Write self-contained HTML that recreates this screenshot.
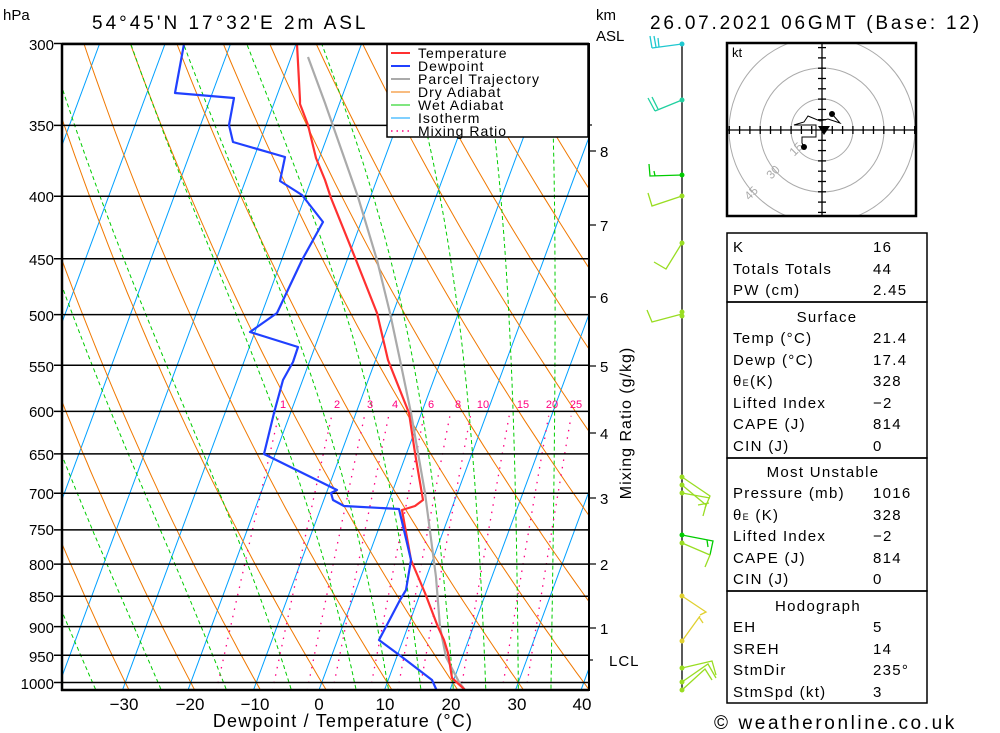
<!DOCTYPE html>
<html><head><meta charset="utf-8"><style>
body{margin:0;background:#fff;width:1000px;height:733px;overflow:hidden;font-family:"Liberation Sans",sans-serif}
svg{position:absolute;left:0;top:0}
text{font-family:"Liberation Sans",sans-serif}
</style></head><body>
<svg id="s" width="1000" height="733" viewBox="0 0 1000 733">
<defs><clipPath id="pc"><rect x="62" y="44" width="527" height="646"/></clipPath>
<clipPath id="hc"><rect x="727" y="43" width="189" height="173"/></clipPath></defs>
<rect width="1000" height="733" fill="#fff"/>
<g id="bg" clip-path="url(#pc)"></g>
<g id="plines" stroke="#000" stroke-width="1.5"></g>
<g id="traces" clip-path="url(#pc)" fill="none" stroke-linejoin="round"></g>
<!-- legend -->
<rect x="387" y="44" width="201" height="93" fill="#fff" stroke="#000" stroke-width="1.5"/>
<g stroke-width="2">
<line x1="391" y1="53" x2="410" y2="53" stroke="#ff3030"/>
<line x1="391" y1="66" x2="410" y2="66" stroke="#2040ff"/>
<line x1="391" y1="79" x2="410" y2="79" stroke="#aaa"/>
<line x1="391" y1="92" x2="410" y2="92" stroke="#f07800" stroke-width="1"/>
<line x1="391" y1="105" x2="410" y2="105" stroke="#00cc00" stroke-width="1"/>
<line x1="391" y1="118" x2="410" y2="118" stroke="#00a0ff" stroke-width="1"/>
<line x1="391" y1="131" x2="410" y2="131" stroke="#ff0080" stroke-width="1.5" stroke-dasharray="1.5,4"/>
</g>
<g font-size="14" letter-spacing="1" fill="#000">
<text x="418" y="58">Temperature</text><text x="418" y="71">Dewpoint</text><text x="418" y="84">Parcel Trajectory</text>
<text x="418" y="97">Dry Adiabat</text><text x="418" y="110">Wet Adiabat</text><text x="418" y="123">Isotherm</text><text x="418" y="136">Mixing Ratio</text>
</g>
<!-- frame -->
<line x1="62" y1="44" x2="589" y2="44" stroke="#000" stroke-width="2.5"/>
<line x1="62" y1="43" x2="62" y2="691" stroke="#000" stroke-width="2.5"/>
<line x1="61" y1="690" x2="589" y2="690" stroke="#000" stroke-width="2.5"/>
<line x1="589" y1="43" x2="589" y2="691" stroke="#000" stroke-width="2"/>
<g stroke="#000" stroke-width="1.2">
<line x1="589" y1="151" x2="596" y2="151"/><line x1="589" y1="225" x2="596" y2="225"/><line x1="589" y1="297" x2="596" y2="297"/>
<line x1="589" y1="366" x2="596" y2="366"/><line x1="589" y1="433" x2="596" y2="433"/><line x1="589" y1="498" x2="596" y2="498"/>
<line x1="589" y1="564" x2="596" y2="564"/><line x1="589" y1="628" x2="596" y2="628"/><line x1="589" y1="660" x2="593" y2="660"/>
<line x1="589" y1="125" x2="592" y2="125"/>
</g>
<g font-size="15" fill="#000">
<text x="600" y="157">8</text><text x="600" y="231">7</text><text x="600" y="303">6</text><text x="600" y="372">5</text>
<text x="600" y="439">4</text><text x="600" y="504">3</text><text x="600" y="570">2</text><text x="600" y="634">1</text>
<text x="609" y="666" letter-spacing="1">LCL</text>
<text x="596" y="20">km</text><text x="596" y="41">ASL</text>
<text x="3" y="20">hPa</text>
</g>
<text transform="translate(631,423) rotate(-90)" font-size="16" text-anchor="middle" letter-spacing="1">Mixing Ratio (g/kg)</text>
<g font-size="15" fill="#000" text-anchor="end" id="plab">
<text x="54" y="50">300</text><text x="54" y="131">350</text><text x="54" y="202">400</text><text x="54" y="265">450</text>
<text x="54" y="321">500</text><text x="54" y="372">550</text><text x="54" y="417">600</text><text x="54" y="460">650</text>
<text x="54" y="499">700</text><text x="54" y="535">750</text><text x="54" y="570">800</text><text x="54" y="602">850</text>
<text x="54" y="633">900</text><text x="54" y="662">950</text><text x="54" y="689">1000</text>
</g>
<g font-size="17" fill="#000" text-anchor="middle">
<text x="124" y="710">−30</text><text x="190" y="710">−20</text><text x="255" y="710">−10</text><text x="319" y="710">0</text>
<text x="385" y="710">10</text><text x="451" y="710">20</text><text x="517" y="710">30</text><text x="582" y="710">40</text>
</g>
<text x="343" y="727" font-size="18" text-anchor="middle" letter-spacing="1.2">Dewpoint / Temperature (°C)</text>
<g font-size="11" fill="#ff0080" text-anchor="middle">
<text x="283" y="408">1</text><text x="337" y="408">2</text><text x="370" y="408">3</text><text x="395" y="408">4</text>
<text x="431" y="408">6</text><text x="458" y="408">8</text><text x="483" y="408">10</text><text x="523" y="408">15</text>
<text x="552" y="408">20</text><text x="576" y="408">25</text>
</g>
<text x="92" y="29" font-size="19" letter-spacing="3">54°45'N  17°32'E  2m  ASL</text>
<text x="650" y="29" font-size="19" letter-spacing="2.8">26.07.2021  06GMT  (Base:  12)</text>
<!-- wind column -->
<line x1="682" y1="44" x2="682" y2="690" stroke="#000" stroke-width="1.3"/>
<g fill="none" stroke-width="1.3">
<g stroke="#20c8d0"><polyline points="682,44 652,48"/><polyline points="650,36 652,48"/><polyline points="654,36 656,47"/><polyline points="658,38 659,47"/></g>
<g stroke="#20d0a0"><polyline points="682,100 655,111"/><polyline points="648,98 655,111"/><polyline points="652,97 658,109"/></g>
<g stroke="#00cc00"><polyline points="682,175 650,176 649,164"/><polyline points="654,171 655,176"/></g>
<g stroke="#99dd22"><polyline points="682,196 652,206 648,193"/><polyline points="682,243 666,269 654,262"/><polyline points="682,314 652,322 647,310"/>
<polyline points="682,477 710,496 705,508"/><polyline points="682,485 706,505 703,516"/><polyline points="682,493 710,498"/><polyline points="698,505 709,503"/></g>
<g stroke="#00cc00"><polyline points="682,535 713,541 710,555"/><polyline points="707,540 708,547"/></g>
<g stroke="#99dd22"><polyline points="682,543 710,555 705,567"/></g>
<g stroke="#e0d030"><polyline points="682,596 706,612 700,615"/><polyline points="682,641 700,616"/><polyline points="699,617 703,623"/></g>
<g stroke="#99dd22"><polyline points="682,668 712,661 716,675"/><polyline points="682,682 708,664 716,678"/><polyline points="682,690 705,669 712,680"/></g>
</g>
<g>
<circle cx="682" cy="44" r="2.5" fill="#20c8d0"/><circle cx="682" cy="100" r="2.5" fill="#20d0a0"/><circle cx="682" cy="175" r="2.5" fill="#00cc00"/>
<circle cx="682" cy="196" r="2.5" fill="#99dd22"/><circle cx="682" cy="243" r="2.5" fill="#99dd22"/><circle cx="682" cy="312" r="2.5" fill="#99dd22"/><circle cx="682" cy="316" r="2.5" fill="#99dd22"/>
<circle cx="682" cy="477" r="2.5" fill="#99dd22"/><circle cx="682" cy="485" r="2.5" fill="#99dd22"/><circle cx="682" cy="493" r="2.5" fill="#99dd22"/>
<circle cx="682" cy="535" r="2.5" fill="#00cc00"/><circle cx="682" cy="543" r="2.5" fill="#99dd22"/>
<circle cx="682" cy="596" r="2.5" fill="#e0d030"/><circle cx="682" cy="641" r="2.5" fill="#e0d030"/>
<circle cx="682" cy="668" r="2.5" fill="#99dd22"/><circle cx="682" cy="682" r="2.5" fill="#99dd22"/><circle cx="682" cy="690" r="2.5" fill="#99dd22"/>
</g>
<!-- hodograph -->
<g clip-path="url(#hc)" fill="none" stroke="#aaa" stroke-width="1">
<circle cx="822" cy="130" r="31"/><circle cx="822" cy="130" r="62"/><circle cx="822" cy="130" r="93"/>
</g>
<g id="hax" stroke="#000" stroke-width="1.3"><line x1="727" y1="130" x2="916" y2="130"/><line x1="822" y1="43" x2="822" y2="216"/></g>
<rect x="727" y="43" width="189" height="173" fill="none" stroke="#000" stroke-width="2.5"/>
<text x="732" y="57" font-size="13">kt</text>
<g font-size="12" fill="#aaa" text-anchor="middle">
<text transform="translate(799,152) rotate(-45)">15</text><text transform="translate(776,175) rotate(-45)">30</text><text transform="translate(754,196) rotate(-45)">45</text>
</g>
<polyline points="832,114 840,123 828,119 820,121 808,116 804,122 794,125 813,125 816,125 816,137 802,137 802,143 804,147" fill="none" stroke="#000" stroke-width="1"/>
<circle cx="832" cy="114" r="3" fill="#000"/><circle cx="804" cy="147" r="3" fill="#000"/>
<polygon points="818,126 830,126 824,135" fill="#000"/>
<!-- table -->
<g fill="none" stroke="#000" stroke-width="1.5">
<rect x="727" y="233" width="200" height="69"/><rect x="727" y="302" width="200" height="156"/>
<rect x="727" y="458" width="200" height="133"/><rect x="727" y="591" width="200" height="112"/>
</g>
<g font-size="15" letter-spacing="1.3" fill="#000">
<text x="733" y="252">K</text><text x="873" y="252">16</text>
<text x="733" y="274">Totals Totals</text><text x="873" y="274">44</text>
<text x="733" y="295">PW (cm)</text><text x="873" y="295">2.45</text>
<text x="827" y="322" text-anchor="middle">Surface</text>
<text x="733" y="343">Temp (°C)</text><text x="873" y="343">21.4</text>
<text x="733" y="365">Dewp (°C)</text><text x="873" y="365">17.4</text>
<text x="733" y="386">θ<tspan font-size="9">E</tspan>(K)</text><text x="873" y="386">328</text>
<text x="733" y="408">Lifted Index</text><text x="873" y="408">−2</text>
<text x="733" y="429">CAPE (J)</text><text x="873" y="429">814</text>
<text x="733" y="451">CIN (J)</text><text x="873" y="451">0</text>
<text x="823" y="477" text-anchor="middle">Most Unstable</text>
<text x="733" y="498">Pressure (mb)</text><text x="873" y="498">1016</text>
<text x="733" y="520">θ<tspan font-size="9">E</tspan> (K)</text><text x="873" y="520">328</text>
<text x="733" y="541">Lifted Index</text><text x="873" y="541">−2</text>
<text x="733" y="563">CAPE (J)</text><text x="873" y="563">814</text>
<text x="733" y="584">CIN (J)</text><text x="873" y="584">0</text>
<text x="818" y="611" text-anchor="middle">Hodograph</text>
<text x="733" y="632">EH</text><text x="873" y="632">5</text>
<text x="733" y="654">SREH</text><text x="873" y="654">14</text>
<text x="733" y="675">StmDir</text><text x="873" y="675">235°</text>
<text x="733" y="697">StmSpd (kt)</text><text x="873" y="697">3</text>
</g>
<text x="714" y="729" font-size="19" letter-spacing="2.6">© weatheronline.co.uk</text>
</svg>
<script>
var NS="http://www.w3.org/2000/svg";
function yP(p){return 682.5-530.7*Math.log(1000/p);}
function xT(T,y){return 319+6.55*T+0.37*(690-y);}
function add(g,tag,a){var e=document.createElementNS(NS,tag);for(var k in a)e.setAttribute(k,a[k]);g.appendChild(e);return e;}
var bg=document.getElementById('bg');
function pl(g,pts,st,w,da){var s=pts.map(function(q){return q[0].toFixed(1)+','+q[1].toFixed(1)}).join(' ');var a={points:s,fill:'none',stroke:st,'stroke-width':w};if(da)a['stroke-dasharray']=da;add(g,'polyline',a);}
for(var T=-130;T<=50;T+=10){pl(bg,[[xT(T,690),690],[xT(T,44),44]],'#00a0ff',1);}
for(var k=-12;k<=18;k++){var th=273.15+10*k,pts=[];for(var p=1020;p>=290;p-=10){var y=yP(p);pts.push([xT(th*Math.pow(p/1000,0.2857)-273.15,y),y]);}pl(bg,pts,'#f07800',1);}
function es(Tc){return 6.112*Math.exp(17.67*Tc/(Tc+243.5));}
var tw=[-45,-35,-25,-15,-5,5,10,15,20,25,30,35];
tw.forEach(function(t0){
 function step(T,p,dp){var Tc=T-273.15,e=es(Tc),rs=0.622*e/(p-e);var num=287*T+2.5e6*rs,den=1004+2.5e6*2.5e6*rs*0.622/(287*T*T);return num/den/p*dp;}
 var T=t0+273.15,p=1000,up=[],dn=[];
 for(;p>=290;p-=5){var y=yP(p);up.push([xT(T-273.15,y),y]);T+=step(T,p,-5);}
 T=t0+273.15;for(p=1000;p<=1025;p+=5){var y2=yP(p);dn.unshift([xT(T-273.15,y2),y2]);T+=step(T,p,5);}
 pl(bg,dn.concat(up),'#00cc00',1,'4,3');
});
[1,2,3,4,6,8,10,15,20,25].forEach(function(w){var pts=[];var off=(w>=20?3:1.3);for(var p=1015;p>=600;p-=10){var e=w/1000*p/(0.622+w/1000),L=Math.log(e/6.112),Td=243.5*L/(17.67-L)+off,y=yP(p);pts.push([xT(Td,y),y]);}pl(bg,pts,'#ff0080',1.3,'1.5,6');});
var plg=document.getElementById('plines');
for(var p=300;p<=1000;p+=50){var y=yP(p);add(plg,'line',{x1:54,y1:y,x2:589,y2:y});}
var tr=document.getElementById('traces');
pl(tr,[[308,57],[325,103],[339,143],[358,197],[377,260],[390,313],[400,360],[411,413],[425,493],[436,577],[440,627],[446,657],[459,682],[465,690]],'#aaa',2.2);
pl(tr,[[297,44],[300,100],[300,104],[308,125],[316,158],[325,180],[331,198],[356,260],[377,313],[388,360],[409,413],[415,453],[423,500],[415,506],[402,510],[411,560],[425,593],[438,627],[444,640],[448,653],[452,678],[463,688],[466,691]],'#ff3030',2.2);
pl(tr,[[184,44],[175,93],[234,98],[229,125],[233,142],[285,157],[280,181],[302,195],[323,222],[302,260],[277,313],[250,332],[298,347],[293,362],[283,380],[274,413],[264,454],[337,490],[331,493],[333,500],[344,506],[399,509],[411,560],[406,590],[400,600],[379,640],[402,657],[432,680],[437,691]],'#2040ff',2.2);
var hx=document.getElementById('hax');
for(var i=-9;i<=9;i++){if(!i)continue;var x=822+i*10.3;add(hx,'line',{x1:x,y1:126,x2:x,y2:134});var yy=130+i*10.3;if(yy>45&&yy<214)add(hx,'line',{x1:818,y1:yy,x2:826,y2:yy});}
</script>
</body></html>
